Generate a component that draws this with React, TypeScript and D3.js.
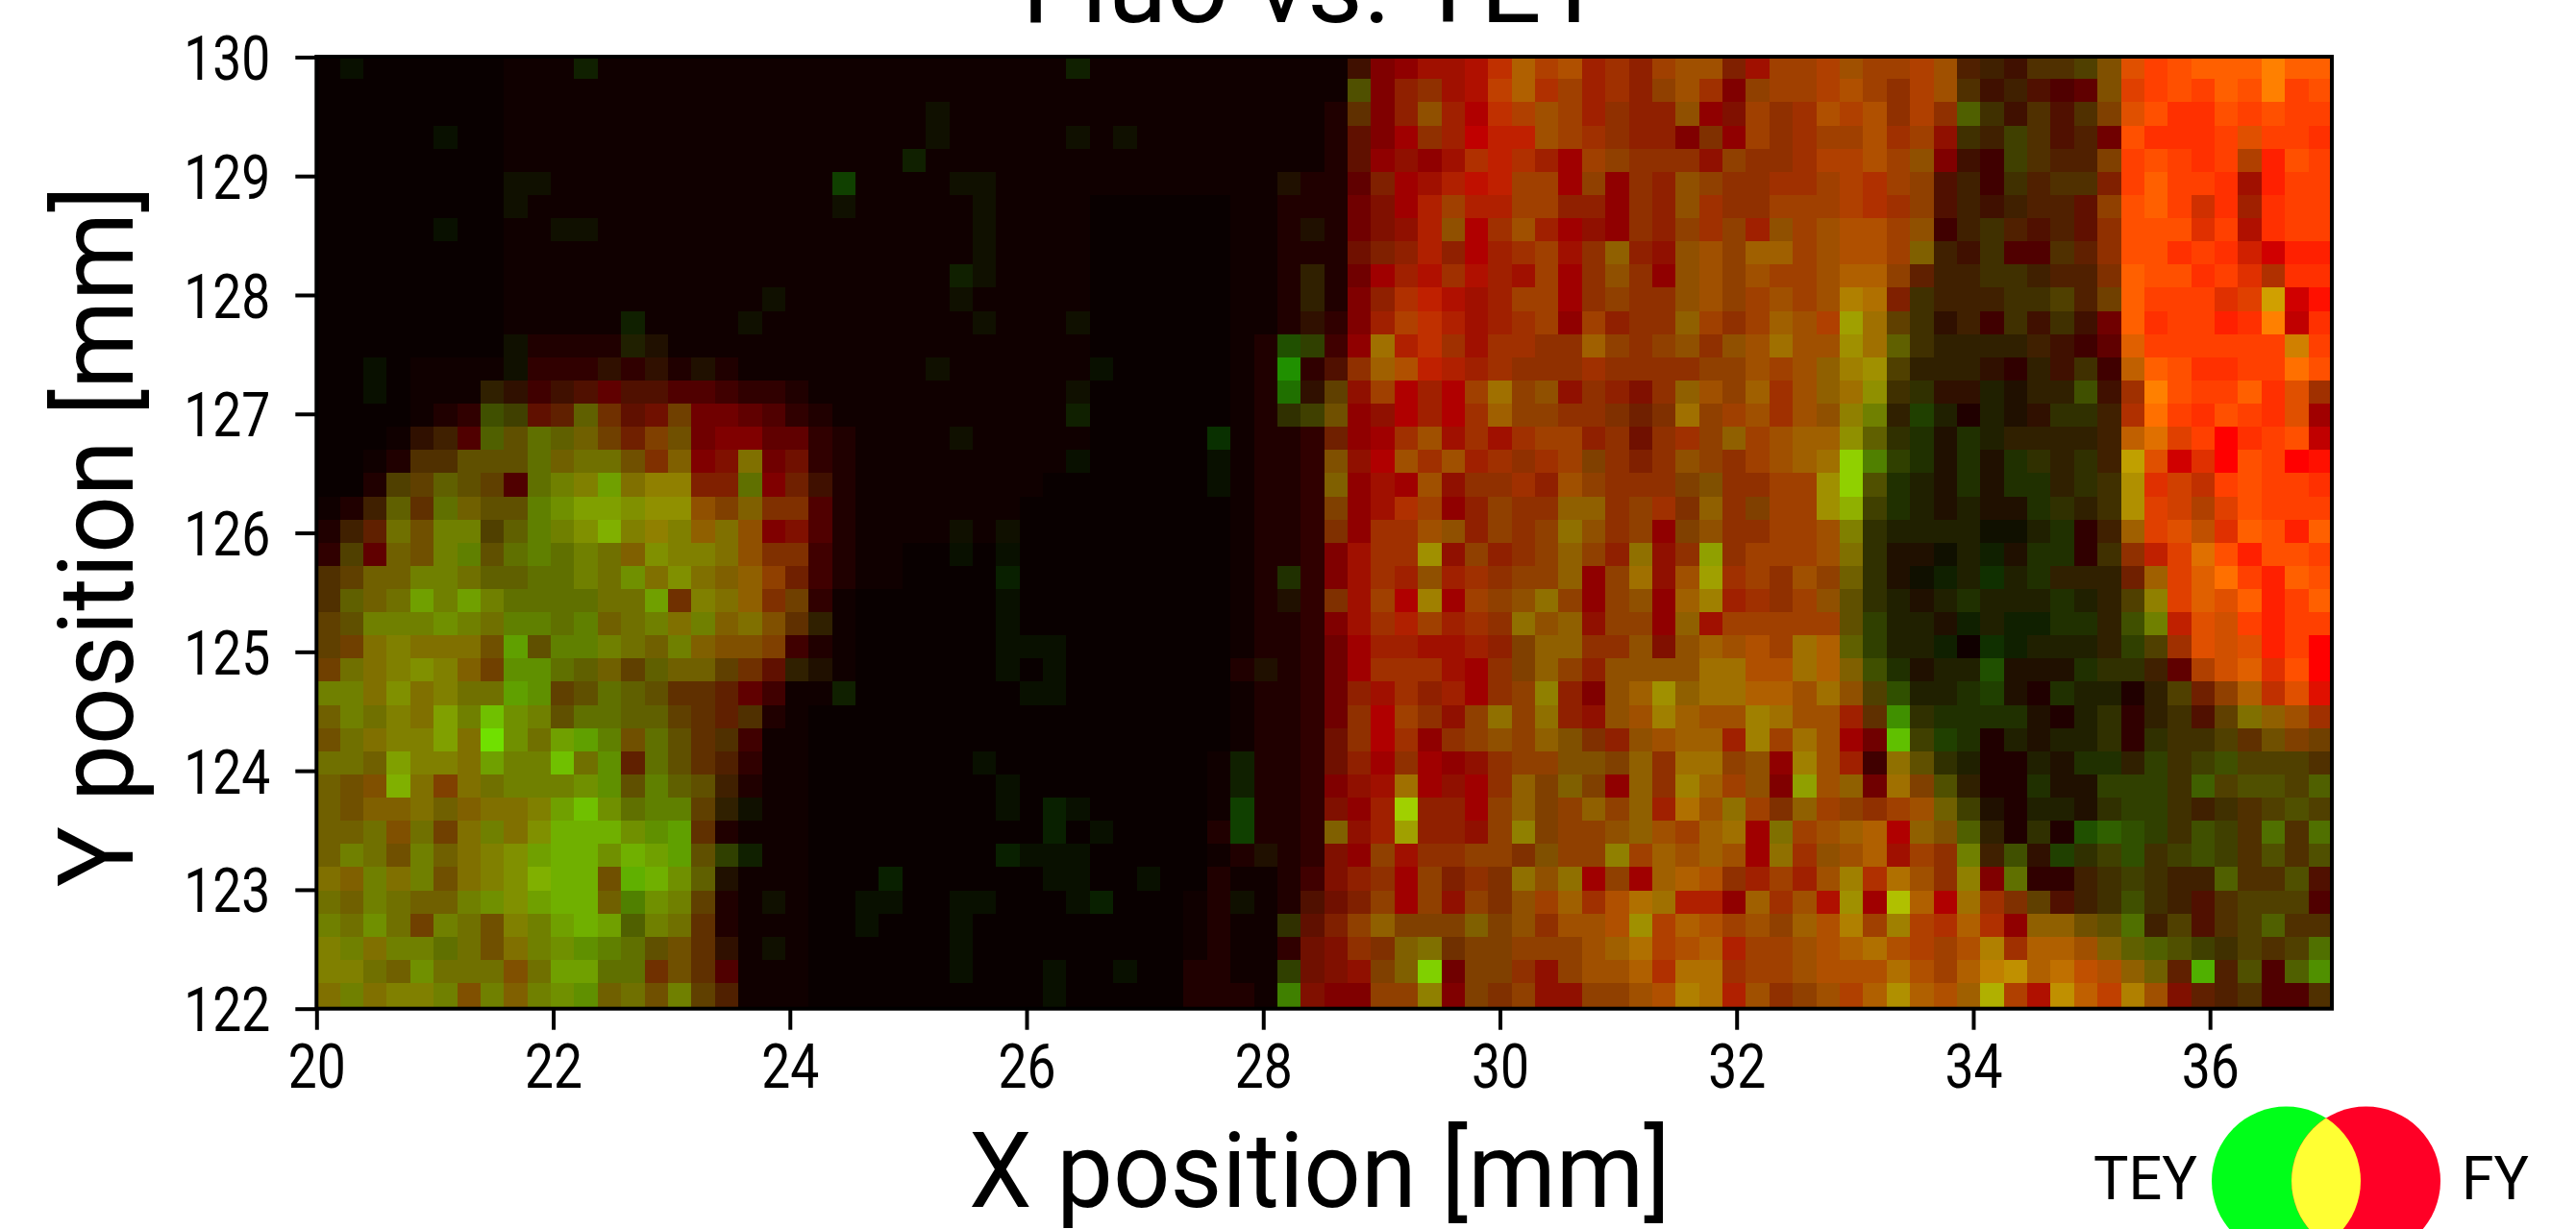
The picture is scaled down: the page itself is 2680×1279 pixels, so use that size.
import { useEffect, useRef } from "react";
import * as d3 from "d3";

// FY (red channel), one hex digit per cell, top row first. Spaces are only there to keep columns readable.
const fyRows = [
  "000000001111111111111 1111111111111111111111 1489AABCBBBAA9AAA8AAA BAAABA5445558EFFFFFFFF",
  "000000001111111111111 1111111111111111111111 15899ABCBBAAA99AA89AA BBA9BA5445568EFFFFFFFF",
  "000000001111111111111 1111111111111111111111 26899ABCBAAA999998A9A BBB9B95445558EFFFFFFFF",
  "000000001111111111111 1111111111111111111111 268A9ACCCAAA999889A9A AABAA94445557FFFFFEFFF",
  "000000001111111111111 1111111111111111111111 26999ABCBAAA99999999A BBBA984445558FFFFFBFFF",
  "000000001111111111111 1111111111111111111122 268AABCCAAA99999999AA ABBA954445558FFFFFAFFF",
  "000000001111111111111 1111111111110000001122 278ABABBAA999999A99AA ABBA954445569FFFDFAFFF",
  "000000001111111111111 1111111111110000001122 2789B9BAAAA99999A9A9A ABBA944455569FFFEFBFFF",
  "000000001111111111111 1111111111110000001122 2789B9BAAAA99999A9AAA ABBA844455569FFFFFDDFF",
  "000000001111111111111 1111111111110000001123 27AABABAAAA99999A9AAA ABB9644444558FFFFFEBFF",
  "000000001111111111111 1111111111110000001123 289BCBAAAAA99999A9AAA ABB8444444557FFFFEEDDF",
  "000000001111111111111 1111111111110000001123 38ABCBAAAA9A9999A9AAA BAA6434444447FFFFFFFCF",
  "000000001222222111111 1111111111110000001223 49ABCAAAA99A999999AAA AAA6433334446EFFFFFFDF",
  "000011111333333222111 1111111111110000001223 59ABCBAA999A999999AAA 9AA5333333444CFFFFFFFF",
  "000011133445655554332 1111111111110000001223 69ABABAA99999899A9AAA 9A94333223344AFFFFFFEA",
  "000012344666767777653 2111111111110000001234 799BABAA9999878A9AAAA 9973222223334BFFFFFFEA",
  "000134556667778778866 3211111111110000001223 79AAAAAAAAA9979A99AAA A963222233334CEEFFFFFC",
  "001255666677778888877 3211111111100000001223 89BAAAAA9AA8989999AAA A953222223334CEDEFFFFF",
  "002566665678789988687 4211111111000000001223 89AAA999A9A99998899AA A952222222334BEDCFFFFF",
  "124666766678889998888 5211111110000000001223 89ABA999999999A8998AA A942222222334BEDBEFFFF",
  "246777756678889898988 5211111110000000001223 89AAA99999999998999AA A832222112234AEECEFFFF",
  "356777666667788888988 4211000000000000001223 8AAAA9999999999999AAA A8322121222349CEEFFFFF",
  "567777766667778888997 4211000000000000001223 8AAA9AA999999A9AAAA9A 97321121223337AEEFFFFF",
  "567777776666777788987 3100000000000000001223 8AABAAA99999999AAAA9A 963222222222359EEEFFFF",
  "667777776666777878886 3100000000000000001223 8AABAAA999999999AAAAA A63222121122347CEDFFFF",
  "678888876666777788884 2100000000000000001223 7AAAAAA989999989AABAA B63221111222335AEDEFFF",
  "778888876666766776763 2100000000000000002223 7AAAAAA989999999AABBA B842222222223346BDEEFF",
  "778888776666666666641 1100000000000000001223 79AA9AA999989AA9AABBA A95322222222223579BCEE",
  "777888777766666666521 0000000000000000001223 79BA999999999AAAAAAAA AA643222222233345689AA",
  "778888877776676665411 0000000000000000001223 79BA9999998899AAAAAAA AA76422222223334456787",
  "777888877777666665311 0000000000000000011223 79A9A9999988899AA999A AA49632222222334445555",
  "778888877777666664211 0000000000000000011223 89AAA9A99888999AAA989 A97A853222223334455555",
  "778887888877766663111 0000000000000000011223 89AA99A9989999ABA9A89 A99AA74222223334445555",
  "777877878877776662111 0000000000000000021223 89AA9999989999AAAAA8A AABB985323223334445555",
  "777777888777777663111 0000000000000000012223 899A999988999AAAAAA9A 9ABAA97443234344445555",
  "887877888877767762111 0000000000000000021124 899A9898999A9AABB9AAA AABBA99863344444455555",
  "777777778777757762111 0000000000000000121125 789A99989AAABBABB9AAA BAABBBAA86544444555555",
  "777777778777757762111 0000000000000000121136 8998888899AABABBBAA9A BBAABBBB99976545555555",
  "878776778776666763111 0000000000000000121137 89888788999AABBBBBAAA BBBBBABBABBA8655445555",
  "887777778777667765111 0000000000000000221137 89888788999AABBBBAAAA BBBBBABCCBCCB976555555",
  "878887878776777765111 0000000000000000222148 8899988899999ABBBBA99 ABBBBBABBBCCCBA8655555",
];

// TEY (green channel), same layout
const teyRows = [
  "010000000002000000000 0000000000020000000000 010011136452324552144 4544452213345545666866",
  "000000000000000000000 0000000000000000000000 050231146342324530444 4543453121005445465845",
  "000000000000000000000 0000010000000000000000 030252034542322501433 5453436313134553354544",
  "000001000000000000000 0000010000010100000000 010032022543322030433 4453413243120533345443",
  "000000000000000000000 0000200000000000000000 010101323204433314333 4454501043224454344254",
  "000000001100000000000 0400001100000000000010 002012124404032543333 4434412032332464431244",
  "000000001000000000000 0100000100000000000000 001024224422032533344 4433412122214564332344",
  "000001000011000000000 0000000100000000000001 001125035201032434254 5554502321213555341344",
  "000000000000000000000 0000000100000000000000 012222023413621554664 5554621300323553432022",
  "000000000000000000000 0000002100000000000002 000213121403530554544 5664222332223655343333",
  "000000000000000000010 0000001000000000000002 002321124403433554454 5872322233424644434A01",
  "000000000000020000100 0000000100010000000001 002432123404233643465 4A74312031310634423803",
  "000000001000021000000 0000000000000000000054 007233133336434535575 5976322222100644444484",
  "001000001000101010000 0000010000001000000090 136522233333333344545 6894222102130665334475",
  "001000021011011000000 0000000000010000000071 414020474513213654635 6793311212251385446353",
  "000000054126311400000 0000000000020000000034 501020364433323744535 5882420211332374354350",
  "000012065766424500000 0000001000000000030000 200351313442313346456 6963313222222674403450",
  "000033555767753601701 0000000000010000010000 510535233344323543456 7D84313133232A50305401",
  "000446540788A78822702 1000000000000000010000 601051333254333453344 9D53213133233934345443",
  "00263765589AA99954633 0000000000000000000000 401340243366343363444 9B43212113323944445444",
  "022758846889B88867501 0000001010000000000000 303355243475340453344 5832222112302645536526",
  "040658857878769887533 0000001010000000000000 0133914234642713A3444 5731112213303324752554",
  "346688766778797976642 0000000020000000000030 0132523344604715A3435 4631122323222264674265",
  "3667A8A8777777A387634 0000000010000000000010 314080445740450682334 5532123222322484656246",
  "458889878878678786753 2000000010000000000000 013242337561440614444 4542212222332582554244",
  "44787775A58887686 5540 0000000011100000000000 002211224663351565547 6642220322222443555240",
  "477898649976646664312 1000000010100000000100 003331034642555577557 6653122511133320456350",
  "88797877A945765332000 0200000001100000000000 021322034820569677665 7545223410322024246351",
  "68787A8C9857766432300 0000000000000000000000 030431474721558655875 5239333331023023147653",
  "57788A7E97AA857533000 0000000000000000000000 130303454653255662847 500C443021223033343544",
  "776A887A88C7927532000 0000000100000000002000 120300134455463774508 5207532002133243454443",
  "655B74778889958652000 0000000010000000002000 01170103646406386450A 5607452003114443645546",
  "6566766778AC978842100 0000000010210000004000 102D22046446462757436 4434564102213443233454",
  "6675747879BBB99A30000 0000000000201000004000 612A22148444565467074 5660656203056543543737",
  "687586789ABB9BAA54200 0000000021110000000100 104133443544846565073 5561438251434534543535",
  "768785789BBB5BB961000 0002000000110010000000 123042337570406653242 5837538070023432263351",
  "768766899ABB689840010 0011001100012000001001 124041435463577220635 190C607334123532134440",
  "8797487588ABA68730000 0010001000000000000031 246444645355594654546 5848436306655724134633",
  "887887757899875531010 0000001000000000000001 133673444445674562445 5675445836656665434347",
  "8876977757AA773530000 0000001000100100000041 1146D0443145563773445 5557546896755662B25069",
  "787888586899675842000 0000000000100000000081 004480434114455872534 5469656B41964851223003",
];

const xTicks = [20, 22, 24, 26, 28, 30, 32, 34, 36];
const yTicks = [122, 123, 124, 125, 126, 127, 128, 129, 130];

// hex digit to a 0-255 channel value
const digit = (c: string) => Math.min(255, parseInt(c, 16) * 16 + (c === "F" ? 15 : 0));

const parseRow = (row: string) => row.replace(/ /g, "").split("").map(digit);

const fy = fyRows.map(parseRow);
const tey = teyRows.map(parseRow);
const cells = fy.flatMap((row, r) =>
  row.map((v, c) => ({ r, c, red: Math.max(9, v), green: tey[r][c] }))
);

const FONT = "Roboto, sans-serif";
const DIGIT_WIDTH = 30;

const App = () => {
  const svgRef = useRef<SVGSVGElement>(null);

  useEffect(() => {
    const svg = d3.select(svgRef.current);
    svg.selectAll("*").remove();

    const left = 329.3;
    const right = 2426;
    const top = 59.4;
    const bottom = 1049.7;

    const x = d3.scaleLinear().domain([20, 37.03]).range([left, right]);
    const y = d3.scaleLinear().domain([122, 130]).range([bottom, top]);

    const colBand = d3.scaleBand<number>().domain(d3.range(fy[0].length)).range([left, right]);
    const rowBand = d3.scaleBand<number>().domain(d3.range(fy.length)).range([58.2, 1047.2]);

    // the heatmap
    svg
      .append("g")
      .attr("shape-rendering", "crispEdges")
      .selectAll("rect")
      .data(cells)
      .enter()
      .append("rect")
      .attr("x", (d) => colBand(d.c)!)
      .attr("y", (d) => rowBand(d.r)!)
      .attr("width", colBand.bandwidth() + 0.5)
      .attr("height", rowBand.bandwidth() + 0.5)
      .attr("fill", (d) => `rgb(${d.red},${d.green},0)`);

    // frame
    svg
      .append("rect")
      .attr("x", left)
      .attr("y", top - 0.4)
      .attr("width", right - left)
      .attr("height", bottom - top + 0.4)
      .attr("fill", "none")
      .attr("stroke", "#000")
      .attr("stroke-width", 4);

    // axes
    const xAxis = svg
      .append("g")
      .attr("transform", `translate(0,${bottom})`)
      .call(d3.axisBottom(x).tickValues(xTicks).tickSize(22).tickFormat(d3.format("d")));
    const yAxis = svg
      .append("g")
      .attr("transform", `translate(${left},0)`)
      .call(d3.axisLeft(y).tickValues(yTicks).tickSize(22).tickFormat(d3.format("d")));

    [xAxis, yAxis].forEach((axis) => {
      axis.select(".domain").remove();
      axis.selectAll("line").attr("stroke", "#000").attr("stroke-width", 4);
      axis
        .selectAll("text")
        .attr("font-family", FONT)
        .attr("font-size", 64)
        .attr("fill", "#000")
        .attr("lengthAdjust", "spacingAndGlyphs")
        .attr("textLength", function () {
          return ((this as SVGTextElement).textContent || "").length * DIGIT_WIDTH;
        });
    });
    xAxis.selectAll("text").attr("dy", null).attr("y", 82);
    yAxis.selectAll("text").attr("dy", "0.36em").attr("x", -48);

    // titles
    const label = (
      txt: string,
      size: number,
      tx: number,
      ty: number,
      length: number,
      rotate = 0,
      anchor = "middle"
    ) =>
      svg
        .append("text")
        .attr("transform", `translate(${tx},${ty}) rotate(${rotate})`)
        .attr("text-anchor", anchor)
        .attr("font-family", FONT)
        .attr("font-size", size)
        .attr("fill", "#000")
        .attr("lengthAdjust", "spacingAndGlyphs")
        .attr("textLength", length)
        .text(txt);

    label("Fluo vs. TEY", 110, 1367, 23, 608);
    label("X position [mm]", 110, 1373, 1256, 730);
    label("Y position [mm]", 110, 138, 558, 730, -90);

    // legend
    const legendY = 1229;
    const legendR = 77.5;
    const defs = svg.append("defs");
    defs
      .append("clipPath")
      .attr("id", "tey-clip")
      .append("circle")
      .attr("cx", 2378.5)
      .attr("cy", legendY)
      .attr("r", legendR);
    svg.append("circle").attr("cx", 2378.5).attr("cy", legendY).attr("r", legendR).attr("fill", "#00ff19");
    svg.append("circle").attr("cx", 2461.5).attr("cy", legendY).attr("r", legendR).attr("fill", "#ff0026");
    svg
      .append("circle")
      .attr("cx", 2461.5)
      .attr("cy", legendY)
      .attr("r", legendR)
      .attr("fill", "#ffff33")
      .attr("clip-path", "url(#tey-clip)");
    label("TEY", 63, 2178, 1247.7, 108, 0, "start");
    label("FY", 63, 2561, 1247.7, 70, 0, "start");
  }, []);

  return (
    <svg
      ref={svgRef}
      width={2680}
      height={1279}
      style={{ position: "absolute", left: 0, top: 0, display: "block", background: "#fff" }}
    />
  );
};

export default App;
